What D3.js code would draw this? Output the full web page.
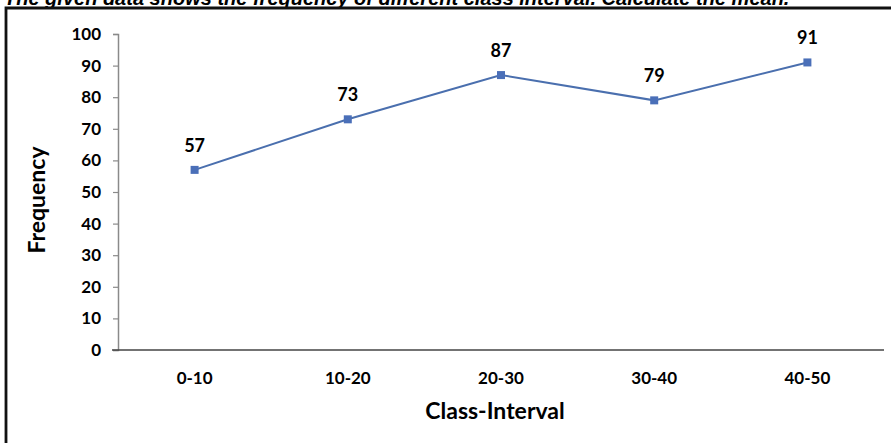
<!DOCTYPE html>
<html>
<head>
<meta charset="utf-8">
<script src="https://cdn.jsdelivr.net/npm/d3@7"></script>
<style>
  body { margin: 0; background: #fff; }
  svg { display: block; }
</style>
</head>
<body>
<script>
// chart data
const categories = ["0-10", "10-20", "20-30", "30-40", "40-50"];
const frequency = [57, 73, 87, 79, 91];
const yTicks = [0, 10, 20, 30, 40, 50, 60, 70, 80, 90, 100];

const w = 891, h = 443;
const margin = {top: 34, right: 7, bottom: 93, left: 118};

const svg = d3.select("body").append("svg")
  .attr("width", w).attr("height", h);

// title, cut off at top like the source
svg.append("text")
  .attr("x", 4).attr("y", 5)
  .style("font-family", "Liberation Sans, Arial, sans-serif")
  .style("font-weight", "bold").style("font-style", "italic")
  .style("font-size", "20px")
  .text("The given data shows the frequency of different class interval. Calculate the mean.");

// frame
svg.append("path")
  .attr("d", `M6,${h} V8 H${w}`)
  .attr("fill", "none").attr("stroke", "#111").attr("stroke-width", 2.8);

let x = d3.scaleBand()
  .domain(categories)
  .range([margin.left, w - margin.right]);

let y = d3.scaleLinear()
  .domain([0, 100])
  .range([h - margin.bottom, margin.top]);

const font = "Lato, Calibri, sans-serif";

// y axis
let yAxis = svg.append("g")
  .attr("transform", `translate(${margin.left},0)`)
  .call(d3.axisLeft(y).tickValues(yTicks).tickSize(5).tickPadding(12));
yAxis.select(".domain").attr("stroke", "#8a8a8a").attr("stroke-width", 1.5);
yAxis.selectAll(".tick line").attr("stroke", "#8a8a8a").attr("stroke-width", 1.2);
yAxis.selectAll("text")
  .style("font-family", font).style("font-weight", "bold")
  .style("font-size", "17px").attr("fill", "#000");

// x axis
let xAxis = svg.append("g")
  .attr("transform", `translate(0,${y(0)})`)
  .call(d3.axisBottom(x).tickSize(0).tickPadding(22));
xAxis.select(".domain")
  .attr("d", `M${margin.left - 6},0H${w - margin.right}`)
  .attr("stroke", "#444").attr("stroke-width", 1.6);
xAxis.selectAll("text")
  .style("font-family", font).style("font-weight", "bold")
  .style("font-size", "17px").attr("fill", "#000");

// axis titles
svg.append("text")
  .attr("x", (margin.left + w - margin.right) / 2 - 6)
  .attr("y", 419)
  .attr("text-anchor", "middle")
  .style("font-family", font).style("font-weight", "bold").style("font-size", "23px")
  .text("Class-Interval");

svg.append("text")
  .attr("transform", `translate(45,${(y(0) + y(100)) / 2 + 8}) rotate(-90)`)
  .attr("text-anchor", "middle")
  .style("font-family", font).style("font-weight", "bold").style("font-size", "23px")
  .text("Frequency");

// line
let pts = categories.map((c, i) => ({c: c, v: frequency[i]}));
let line = d3.line()
  .x(d => x(d.c) + x.bandwidth() / 2)
  .y(d => y(d.v));

svg.append("path")
  .datum(pts)
  .attr("d", line)
  .attr("fill", "none")
  .attr("stroke", "#4a6fae")
  .attr("stroke-width", 2);

svg.selectAll("rect.mark").data(pts).enter().append("rect")
  .attr("class", "mark")
  .attr("x", d => x(d.c) + x.bandwidth() / 2 - 4)
  .attr("y", d => y(d.v) - 4)
  .attr("width", 8).attr("height", 8)
  .attr("fill", "#4a6fb8");

svg.selectAll("text.lbl").data(pts).enter().append("text")
  .attr("class", "lbl")
  .attr("x", d => x(d.c) + x.bandwidth() / 2)
  .attr("y", d => y(d.v) - 18)
  .attr("text-anchor", "middle")
  .style("font-family", font).style("font-weight", "bold").style("font-size", "18px")
  .text(d => d.v);
</script>
</body>
</html>
